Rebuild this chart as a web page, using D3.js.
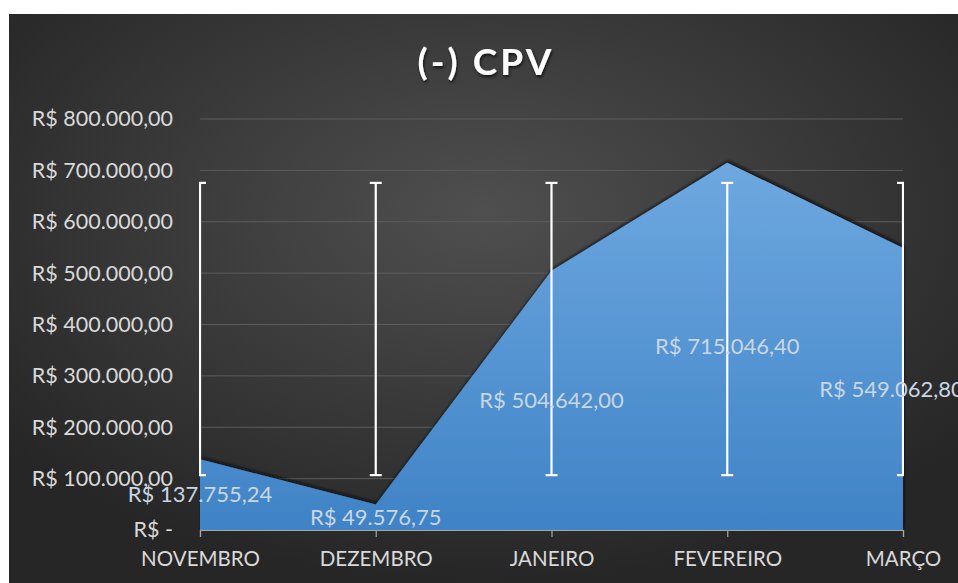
<!DOCTYPE html>
<html>
<head>
<meta charset="utf-8">
<script src="https://cdn.jsdelivr.net/npm/d3@7"></script>
<style>
    body { margin: 0; background: #fff; }
    svg { display: block; }
</style>
</head>
<body>
<div id="chart"></div>
<script>
const months = ["NOVEMBRO", "DEZEMBRO", "JANEIRO", "FEVEREIRO", "MARÇO"];
const cpv = [137755.24, 49576.75, 504642.00, 715046.40, 549062.80];
const yTicks = [0, 100000, 200000, 300000, 400000, 500000, 600000, 700000, 800000];

const width = 958, height = 583;
const margin = {top: 119, right: 55, bottom: 53, left: 200};
const font = "Lato, 'Open Sans', sans-serif";

const brl = v => v === 0 ? "R$ -" :
    "R$ " + d3.format(",.2f")(v).replace(/,/g, "#").replace(".", ",").replace(/#/g, ".");

const svg = d3.select("#chart").append("svg")
    .attr("width", width)
    .attr("height", height);

const defs = svg.append("defs");

const bg = defs.append("radialGradient")
    .attr("id", "bg")
    .attr("cx", "50%").attr("cy", "35%").attr("r", "65%");
bg.append("stop").attr("offset", "0%").attr("stop-color", "#4f4f4f");
bg.append("stop").attr("offset", "100%").attr("stop-color", "#262626");

const fill = defs.append("linearGradient")
    .attr("id", "fill")
    .attr("x1", 0).attr("y1", 0).attr("x2", 0).attr("y2", 1);
fill.append("stop").attr("offset", "0%").attr("stop-color", "#6ea8e0");
fill.append("stop").attr("offset", "100%").attr("stop-color", "#3f83c6");

const shadow = defs.append("filter").attr("id", "shadow")
    .attr("x", "-5%").attr("y", "-10%").attr("width", "110%").attr("height", "120%");
shadow.append("feDropShadow")
    .attr("dx", 1).attr("dy", -2).attr("stdDeviation", 1.5)
    .attr("flood-color", "#111").attr("flood-opacity", 0.9);

const titleShadow = defs.append("filter").attr("id", "tshadow");
titleShadow.append("feDropShadow")
    .attr("dx", 1).attr("dy", 2).attr("stdDeviation", 1.5)
    .attr("flood-color", "#000").attr("flood-opacity", 0.7);

svg.append("rect")
    .attr("x", 9).attr("y", 14)
    .attr("width", width - 9).attr("height", height - 14)
    .attr("fill", "url(#bg)");

const x = d3.scalePoint()
    .domain(months)
    .range([margin.left, width - margin.right]);

const y = d3.scaleLinear()
    .domain([0, 800000])
    .range([height - margin.bottom, margin.top]);

// gridlines
svg.append("g")
    .selectAll("line")
    .data(yTicks.slice(1))
    .join("line")
    .attr("x1", margin.left)
    .attr("x2", width - margin.right)
    .attr("y1", d => y(d))
    .attr("y2", d => y(d))
    .attr("stroke", "#5c5c5c")
    .attr("stroke-width", 1);

// area
const area = d3.area()
    .x((d, i) => x(months[i]))
    .y0(y(0))
    .y1(d => y(d));

svg.append("path")
    .datum(cpv)
    .attr("d", area)
    .attr("fill", "url(#fill)")
    .attr("filter", "url(#shadow)");

// error bars: standard deviation around the mean (Excel style)
const mean = d3.mean(cpv);
const sd = d3.deviation(cpv);

const clip = defs.append("clipPath").attr("id", "plotclip");
clip.append("rect")
    .attr("x", margin.left - 1).attr("y", 0)
    .attr("width", width - margin.right - margin.left + 2).attr("height", height);

const ebg = svg.append("g")
    .attr("stroke", "#fff")
    .attr("stroke-width", 2.2)
    .attr("clip-path", "url(#plotclip)")
    .selectAll("g")
    .data(months)
    .join("g");
ebg.append("line")
    .attr("x1", d => x(d)).attr("x2", d => x(d))
    .attr("y1", y(mean + sd)).attr("y2", y(mean - sd));
ebg.append("line")
    .attr("x1", d => x(d) - 6).attr("x2", d => x(d) + 6)
    .attr("y1", y(mean + sd)).attr("y2", y(mean + sd));
ebg.append("line")
    .attr("x1", d => x(d) - 6).attr("x2", d => x(d) + 6)
    .attr("y1", y(mean - sd)).attr("y2", y(mean - sd));

// x axis
const xAxis = svg.append("g")
    .attr("transform", `translate(0,${y(0)})`)
    .call(d3.axisBottom(x).tickSize(7).tickPadding(14));
xAxis.select(".domain").attr("stroke", "#a6a6a6").attr("stroke-width", 1.2);
xAxis.selectAll(".tick line").attr("stroke", "#a6a6a6").attr("stroke-width", 1.2);
xAxis.selectAll("text")
    .attr("fill", "#d9d9d9")
    .style("font-family", font)
    .style("font-size", "20.5px");

// y axis labels
const yAxis = svg.append("g")
    .attr("transform", `translate(${margin.left},0)`)
    .call(d3.axisLeft(y).tickValues(yTicks).tickFormat(brl).tickSize(0).tickPadding(27));
yAxis.select(".domain").remove();
yAxis.selectAll("text")
    .attr("fill", "#d9d9d9")
    .style("font-family", font)
    .style("font-size", "21.5px");

// data labels (pushed back inside when they run past the right edge, as Excel does)
svg.append("g")
    .selectAll("text")
    .data(cpv)
    .join("text")
    .attr("x", (d, i) => x(months[i]))
    .attr("y", d => y(d / 2))
    .attr("dy", "0.35em")
    .attr("text-anchor", "middle")
    .attr("fill", "#c9d6e3")
    .style("font-family", font)
    .style("font-size", "22px")
    .text(brl)
    .each(function() {
        const b = this.getBBox();
        const over = b.x + b.width - (width + 6);
        if (over > 0) d3.select(this).attr("x", +d3.select(this).attr("x") - over);
    });

// title
svg.append("text")
    .attr("x", 486)
    .attr("y", 75)
    .attr("text-anchor", "middle")
    .attr("fill", "#fff")
    .attr("filter", "url(#tshadow)")
    .style("font-family", font)
    .style("font-weight", "bold")
    .style("font-size", "37px")
    .style("letter-spacing", "3px")
    .text("(-) CPV");
</script>
</body>
</html>
